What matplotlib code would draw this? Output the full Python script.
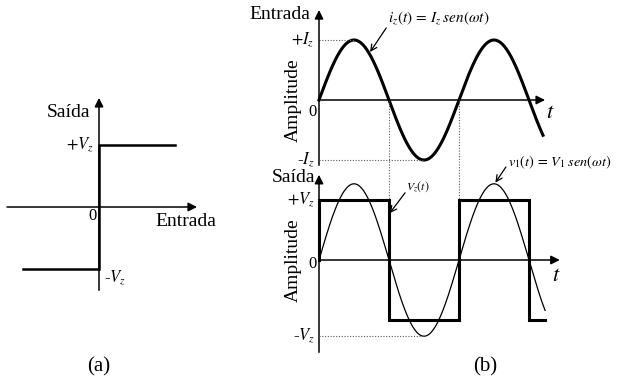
import numpy as np
import matplotlib.pyplot as plt

plt.rcParams['font.family'] = ['Liberation Serif', 'DejaVu Serif']
plt.rcParams['mathtext.fontset'] = 'stix'

# (a) zener transfer characteristic, output in units of Vz
char_in = [-1.0, 0.0, 0.0, 1.0]
char_out = [-1.0, -1.0, 1.0, 1.0]

# (b) signals, time in units of pi
I_z = 1.0
V_1 = 1.27
V_z = 1.0
t_in_end = 3.2
t_out_end = 3.23
switch_t = [0.0, 1.0, 2.0, 3.0]          # instants where the output flips
switch_level = [V_z, -V_z, V_z, -V_z]

W, H = 617, 390
fig = plt.figure(figsize=(W / 100, H / 100), dpi=100)


def panel(ox, oy, sx, sy, box):
    """Axes with data origin at pixel (ox, oy), sx/sy pixels per unit."""
    left, top, right, bottom = box
    ax = fig.add_axes([left / W, 1 - bottom / H, (right - left) / W, (bottom - top) / H])
    ax.set_xlim((left - ox) / sx, (right - ox) / sx)
    ax.set_ylim((oy - bottom) / sy, (oy - top) / sy)
    ax.axis('off')
    return ax


def axis_arrow(ax, x0, y0, x1, y1):
    ax.annotate('', xy=(x1, y1), xytext=(x0, y0), annotation_clip=False,
                arrowprops=dict(arrowstyle='-|>', lw=1.1, color='k',
                                mutation_scale=13, shrinkA=0, shrinkB=0))


def pointer(ax, text, xt, yt, x0, y0, x1, y1, size):
    ax.text(xt, yt, text, fontsize=size, ha='left', va='center')
    ax.annotate('', xy=(x1, y1), xytext=(x0, y0), annotation_clip=False,
                arrowprops=dict(arrowstyle='->', lw=0.9, color='k',
                                mutation_scale=11, shrinkA=0, shrinkB=0))


dot = dict(color='0.35', lw=0.8, ls=(0, (1, 1.5)), clip_on=False)

# ---- (a) ----
ax = panel(99, 207, 76, 62, (0, 90, 240, 300))
axis_arrow(ax, -1.21, 0, 1.29, 0)
ax.plot([0, 0], [-1.34, 0], color='k', lw=1.1)
axis_arrow(ax, 0, 0, 0, 1.76)
ax.plot(char_in, char_out, color='k', lw=1.8, solid_joinstyle='miter')
ax.text(-0.12, 1.52, 'Saída', fontsize=14, ha='right', va='center')
ax.text(-0.07, 1.0, '$+V_z$', fontsize=12, ha='right', va='center')
ax.text(-0.03, -0.15, '0', fontsize=12, ha='right', va='center')
ax.text(0.74, -0.24, 'Entrada', fontsize=14, ha='left', va='center')
ax.text(0.07, -1.15, '-$V_z$', fontsize=12, ha='left', va='center')

# ---- (b) input current ----
ax = panel(319, 100, 70, 60, (230, 0, 617, 170))
axis_arrow(ax, 0, 0, 3.23, 0)
ax.plot([0, 0], [-1.08, 0], color='k', lw=1.1)
axis_arrow(ax, 0, 0, 0, 1.5)
t = np.linspace(0, t_in_end, 400)
ax.plot(t, I_z * np.sin(np.pi * t), color='k', lw=2.2)
ax.plot([0, 0.5], [I_z, I_z], **dot)
ax.plot([0, 1.5], [-I_z, -I_z], **dot)
for ts in switch_t[1:3]:
    ax.plot([ts, ts], [0, -160 / 60], **dot)
ax.text(-0.13, 1.42, 'Entrada', fontsize=14, ha='right', va='center')
ax.text(-0.06, I_z, '$+I_z$', fontsize=12, ha='right', va='center')
ax.text(-0.06, -I_z, '-$I_z$', fontsize=12, ha='right', va='center')
ax.text(-0.03, -0.2, '0', fontsize=12, ha='right', va='center')
ax.text(-0.36, 0, 'Amplitude', fontsize=14, rotation=90, ha='center', va='center')
ax.text(3.31, -0.22, '$t$', fontsize=16, ha='center', va='center')
pointer(ax, r'$i_z(t)\,=\,I_z\;sen(\omega t)$', 0.99, 1.37,
        0.96, 1.2, 0.73, 0.8, 11)

# ---- (b) output voltage ----
ax = panel(319, 260, 70, 60, (230, 165, 617, 360))
axis_arrow(ax, 0, 0, 3.44, 0)
ax.plot([0, 0], [-1.53, 0], color='k', lw=1.1)
axis_arrow(ax, 0, 0, 0, 1.42)
t = np.linspace(0, t_out_end, 400)
ax.plot(t, V_1 * np.sin(np.pi * t), color='k', lw=0.9)
sq_t = [0.0]
sq_v = [0.0]
for ts, lv in zip(switch_t, switch_level):
    sq_t += [ts, ts]
    sq_v += [sq_v[-1], lv]
sq_t.append(t_out_end)
sq_v.append(switch_level[-1])
ax.plot(sq_t, sq_v, color='k', lw=2.2, solid_joinstyle='miter')
ax.plot([0, 1.5], [-V_1, -V_1], **dot)
ax.text(-0.06, 1.37, 'Saída', fontsize=14, ha='right', va='center')
ax.text(-0.06, V_z, '$+V_z$', fontsize=12, ha='right', va='center')
ax.text(-0.06, -V_1, '-$V_z$', fontsize=12, ha='right', va='center')
ax.text(-0.03, -0.07, '0', fontsize=12, ha='right', va='center')
ax.text(-0.36, 0, 'Amplitude', fontsize=14, rotation=90, ha='center', va='center')
ax.text(3.39, -0.28, '$t$', fontsize=16, ha='center', va='center')
pointer(ax, '$V_z(t)$', 1.25, 1.22, 1.23, 1.12, 1.01, 0.78, 8.5)
pointer(ax, r'$v_1(t)\,=\,V_1\;sen(\omega t)$', 2.70, 1.62,
        2.67, 1.55, 2.52, 1.29, 10.3)

fig.text(99 / W, 1 - 367 / H, '(a)', fontsize=15, ha='center', va='center')
fig.text(485 / W, 1 - 367 / H, '(b)', fontsize=15, ha='center', va='center')

fig.savefig('out.png', dpi=100)
